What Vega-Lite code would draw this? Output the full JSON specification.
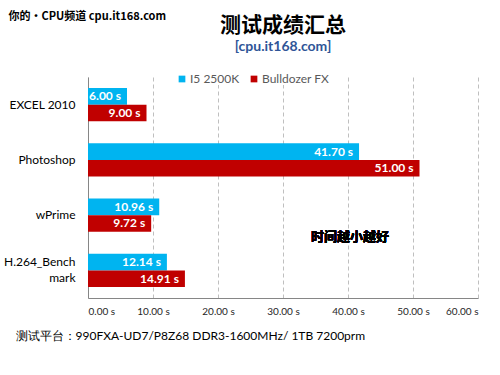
{
  "$schema": "https://vega.github.io/schema/vega-lite/v6.json",
  "width": 390,
  "height": 221,
  "autosize": {"type": "none"},
  "padding": {"left": 88, "top": 77, "right": 22, "bottom": 77},
  "background": "white",
  "title": {
    "text": "测试成绩汇总",
    "subtitle": "[cpu.it168.com]",
    "font": "Noto Sans CJK SC",
    "fontSize": 21,
    "fontWeight": "bold",
    "color": "#000000",
    "subtitleFont": "Lato",
    "subtitleFontSize": 14,
    "subtitleFontWeight": "bold",
    "subtitleColor": "#2f5597",
    "subtitlePadding": 4,
    "anchor": "middle",
    "offset": 0,
    "dy": 44
  },
  "config": {
    "view": {"stroke": null},
    "font": "Lato"
  },
  "data": {
    "values": [
      {"task": "EXCEL 2010", "cpu": "I5 2500K", "time": 6.00, "label": "6.00 s"},
      {"task": "EXCEL 2010", "cpu": "Bulldozer FX", "time": 9.00, "label": "9.00 s"},
      {"task": "Photoshop", "cpu": "I5 2500K", "time": 41.70, "label": "41.70 s"},
      {"task": "Photoshop", "cpu": "Bulldozer FX", "time": 51.00, "label": "51.00 s"},
      {"task": "wPrime", "cpu": "I5 2500K", "time": 10.96, "label": "10.96 s"},
      {"task": "wPrime", "cpu": "Bulldozer FX", "time": 9.72, "label": "9.72 s"},
      {"task": "H.264_Benchmark", "cpu": "I5 2500K", "time": 12.14, "label": "12.14 s"},
      {"task": "H.264_Benchmark", "cpu": "Bulldozer FX", "time": 14.91, "label": "14.91 s"}
    ]
  },
  "encoding": {
    "y": {
      "field": "task",
      "type": "nominal",
      "sort": ["EXCEL 2010", "Photoshop", "wPrime", "H.264_Benchmark"],
      "scale": {"paddingInner": 0.4, "paddingOuter": 0.2},
      "axis": {
        "title": "你的•CPU频道 cpu.it168.com",
        "titleAngle": 0,
        "titleAlign": "left",
        "titleBaseline": "middle",
        "titleX": -80,
        "titleY": -61,
        "titleFont": "Noto Sans CJK SC",
        "titleFontSize": 11,
        "titleFontWeight": "bold",
        "titleColor": "#000000",
        "ticks": false,
        "labelPadding": 13,
        "labelFont": "Lato",
        "labelFontSize": 12,
        "labelColor": "#000000",
        "labelBaseline": "middle",
        "labelLineHeight": 16,
        "labelOffset": {"condition": {"test": "datum.value == 'H.264_Benchmark'", "value": -8}, "value": 0},
        "labelExpr": "datum.value == 'H.264_Benchmark' ? ['H.264_Bench', 'mark'] : datum.value",
        "domainColor": "#868686",
        "domainWidth": 1,
        "grid": false
      }
    }
  },
  "layer": [
    {
      "mark": {"type": "bar"},
      "encoding": {
        "yOffset": {"field": "cpu", "type": "nominal", "sort": ["I5 2500K", "Bulldozer FX"]},
        "x": {
          "field": "time",
          "type": "quantitative",
          "scale": {"domain": [0, 60], "nice": false},
          "axis": {
            "values": [0, 10, 20, 30, 40, 50, 60],
            "labelExpr": "format(datum.value, '.2f') + ' s'",
            "labelFont": "Lato",
            "labelFontSize": 10,
            "labelColor": "#262626",
            "labelPadding": 8,
            "ticks": false,
            "grid": true,
            "gridColor": "#bfbfbf",
            "gridDash": [4, 3],
            "domainColor": "#868686",
            "title": "测试平台：990FXA-UD7/P8Z68  DDR3-1600MHz/ 1TB 7200prm",
            "titleAnchor": "start",
            "titleAlign": "left",
            "titleX": -73,
            "titleY": 32,
            "titleFont": "Lato",
            "titleFontSize": 12,
            "titleFontWeight": "normal",
            "titleColor": "#000000"
          }
        },
        "color": {
          "field": "cpu",
          "type": "nominal",
          "scale": {"domain": ["I5 2500K", "Bulldozer FX"], "range": ["#00b4f0", "#c00000"]},
          "legend": {
            "title": null,
            "orient": "none",
            "direction": "horizontal",
            "legendX": 88,
            "legendY": -4,
            "symbolType": "square",
            "symbolSize": 45,
            "symbolStrokeWidth": 0,
            "labelFont": "Lato",
            "labelFontSize": 12,
            "labelColor": "#595959",
            "labelOffset": 2,
            "columnPadding": 8,
            "fillColor": "white"
          }
        }
      }
    },
    {
      "mark": {"type": "text", "align": "right", "baseline": "middle", "dx": -6, "color": "white", "fontWeight": "bold", "fontSize": 12, "font": "Lato"},
      "encoding": {
        "yOffset": {"field": "cpu", "type": "nominal", "sort": ["I5 2500K", "Bulldozer FX"]},
        "x": {"field": "time", "type": "quantitative"},
        "text": {"field": "label"}
      }
    },
    {
      "mark": {"type": "text", "align": "center", "baseline": "middle", "dy": 22, "color": "black", "fontWeight": "bold", "fontSize": 13, "font": "Noto Sans CJK SC", "text": "时间越小越好"},
      "encoding": {
        "x": {"datum": 40.3, "type": "quantitative"},
        "y": {"datum": "wPrime", "type": "nominal"}
      }
    }
  ]
}
